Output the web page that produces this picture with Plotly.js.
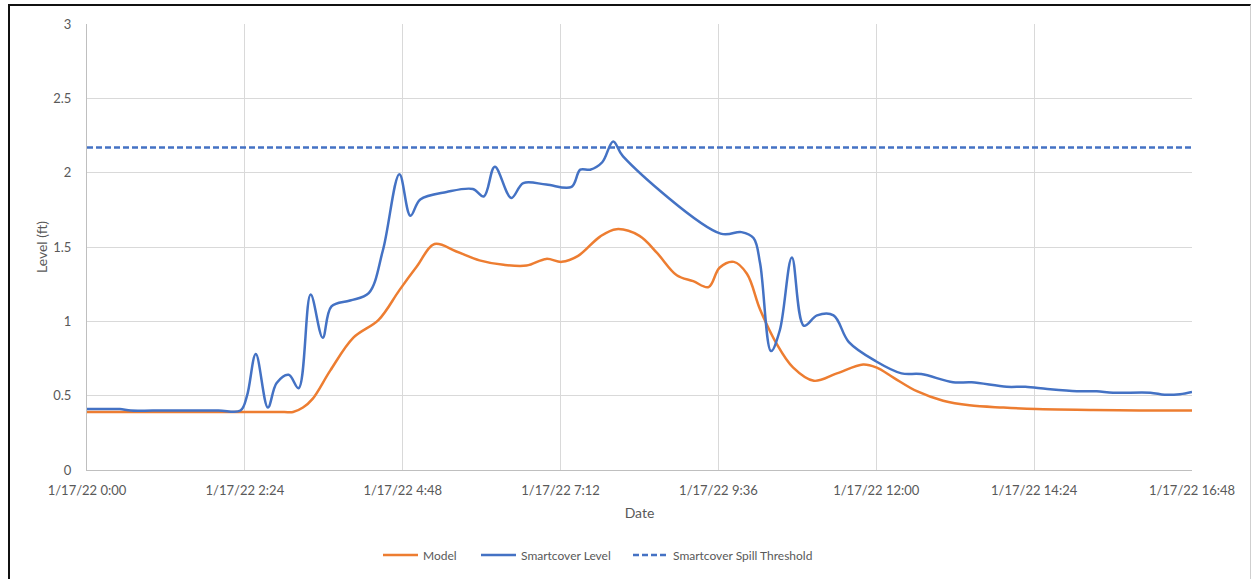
<!DOCTYPE html>
<html>
<head>
<meta charset="utf-8">
<script src="https://cdn.plot.ly/plotly-3.0.1.min.js"></script>
<style>
  html, body { margin: 0; padding: 0; background: #ffffff; }
  #wrap { position: relative; width: 1252px; height: 579px; overflow: hidden; }
  #chart { position: absolute; left: 0; top: 0; width: 1252px; height: 579px; }
  #frame { position: absolute; left: 8px; top: 4px; width: 1240px; height: 590px;
           border-left: 2px solid #111; border-top: 2px solid #111; border-right: 1px solid #cfcfcf;
           pointer-events: none; }
</style>
</head>
<body>
<div id="wrap">
  <div id="chart"></div>
  <div id="frame"></div>
</div>
<script>
const DAY = "2022-01-17 ";

const modelTimes = ["00:00","01:00","02:00","02:40","03:00","03:08","03:17","03:26","03:42","04:03","04:26","04:45","05:01","05:17","05:37","05:58","06:20","06:41","06:59","07:13","07:28","07:48","08:03","08:24","08:40","08:58","09:13","09:27","09:37","09:50","10:02","10:14","10:29","10:44","11:03","11:24","11:48","12:00","12:16","12:37","13:01","13:25","13:56","14:26","15:18","16:00","16:48"];
const modelLevels = [0.39,0.39,0.39,0.39,0.39,0.39,0.42,0.48,0.67,0.89,1.01,1.21,1.37,1.52,1.47,1.41,1.38,1.375,1.42,1.40,1.44,1.57,1.62,1.575,1.46,1.31,1.27,1.23,1.36,1.40,1.32,1.08,0.85,0.69,0.60,0.65,0.71,0.69,0.62,0.53,0.466,0.435,0.42,0.41,0.404,0.40,0.40];

const smartTimes = ["00:00","00:20","00:30","00:40","01:00","01:30","02:00","02:20","02:26","02:34","02:45","02:53","03:04","03:13","03:24","03:35","03:43","04:00","04:17","04:30","04:45","04:55","05:04","05:28","05:52","06:02","06:12","06:27","06:38","06:59","07:22","07:30","07:39","07:50","08:00","08:09","09:38","09:57","10:08","10:14","10:24","10:32","10:43","10:54","11:06","11:21","11:35","12:00","12:23","12:41","13:10","13:27","13:59","14:16","14:36","15:03","15:21","15:36","16:10","16:23","16:37","16:48"];
const smartLevels = [0.41,0.41,0.41,0.40,0.40,0.40,0.40,0.40,0.50,0.78,0.42,0.585,0.64,0.55,1.18,0.89,1.10,1.14,1.19,1.48,1.99,1.71,1.82,1.87,1.89,1.84,2.04,1.83,1.93,1.92,1.905,2.02,2.02,2.07,2.21,2.11,1.59,1.60,1.56,1.39,0.80,0.94,1.43,0.97,1.04,1.04,0.86,0.73,0.65,0.645,0.59,0.59,0.56,0.56,0.545,0.53,0.53,0.52,0.52,0.506,0.51,0.525];

const thresholdTimes = ["00:00","16:48"];
const thresholdLevels = [2.17,2.17];

const tickTimes = ["00:00","02:24","04:48","07:12","09:36","12:00","14:24","16:48"];
const tickLabels = ["1/17/22 0:00","1/17/22 2:24","1/17/22 4:48","1/17/22 7:12","1/17/22 9:36","1/17/22 12:00","1/17/22 14:24","1/17/22 16:48"];
const yTicks = [0,0.5,1,1.5,2,2.5,3];
const yTickLabels = ["0","0.5","1","1.5","2","2.5","3"];

const toDates = arr => arr.map(t => DAY + t);

const FONT = "Lato, 'Open Sans', sans-serif";
const GREY = "#595959";

const traces = [
  {
    x: toDates(modelTimes), y: modelLevels, name: "Model", type: "scatter", mode: "lines",
    line: { color: "#ED7D31", width: 2.5, shape: "spline", smoothing: 1 }, legend: "legend"
  },
  {
    x: toDates(smartTimes), y: smartLevels, name: "Smartcover Level", type: "scatter", mode: "lines",
    line: { color: "#4472C4", width: 2.5, shape: "spline", smoothing: 1 }, legend: "legend2"
  },
  {
    x: toDates(thresholdTimes), y: thresholdLevels, name: "Smartcover Spill Threshold", type: "scatter", mode: "lines",
    line: { color: "#4472C4", width: 2.5, dash: "6px,3px" }, legend: "legend3"
  }
];

const plotL = 87, plotW = 1105;
const legY = -0.1906;
function leg(px) {
  return {
    orientation: "h", x: (px - plotL) / plotW, xanchor: "left", y: legY, yanchor: "middle",
    font: { family: FONT, size: 12, color: GREY }, itemwidth: 35, bgcolor: "rgba(0,0,0,0)", borderwidth: 0
  };
}

const layout = {
  width: 1252, height: 579,
  margin: { l: 87, r: 60, t: 24, b: 109, autoexpand: false },
  paper_bgcolor: "#ffffff", plot_bgcolor: "#ffffff",
  font: { family: FONT, size: 13, color: GREY },
  showlegend: true,
  legend: leg(383 - 5),
  legend2: leg(481 - 5),
  legend3: leg(633 - 5),
  xaxis: {
    type: "date", automargin: false,
    range: [DAY + "00:00", DAY + "16:48"],
    tickmode: "array", tickvals: toDates(tickTimes), ticktext: tickLabels,
    showgrid: true, gridcolor: "#d9d9d9", gridwidth: 1,
    showline: true, linecolor: "#bfbfbf", linewidth: 1,
    zeroline: false, ticks: "", ticklabelstandoff: 8,
    tickfont: { family: FONT, size: 13, color: GREY },
    title: { text: "Date", font: { family: FONT, size: 14, color: GREY }, standoff: 11 }
  },
  yaxis: {
    automargin: false,
    range: [0, 3],
    tickmode: "array", tickvals: yTicks, ticktext: yTickLabels,
    showgrid: true, gridcolor: "#d9d9d9", gridwidth: 1,
    showline: true, linecolor: "#bfbfbf", linewidth: 1,
    zeroline: false, ticks: "", ticklabelstandoff: 12,
    tickfont: { family: FONT, size: 13, color: GREY },
    title: { text: "Level (ft)", font: { family: FONT, size: 14, color: GREY }, standoff: 2 }
  }
};

Plotly.newPlot("chart", traces, layout, { displayModeBar: false, staticPlot: true });
</script>
</body>
</html>
